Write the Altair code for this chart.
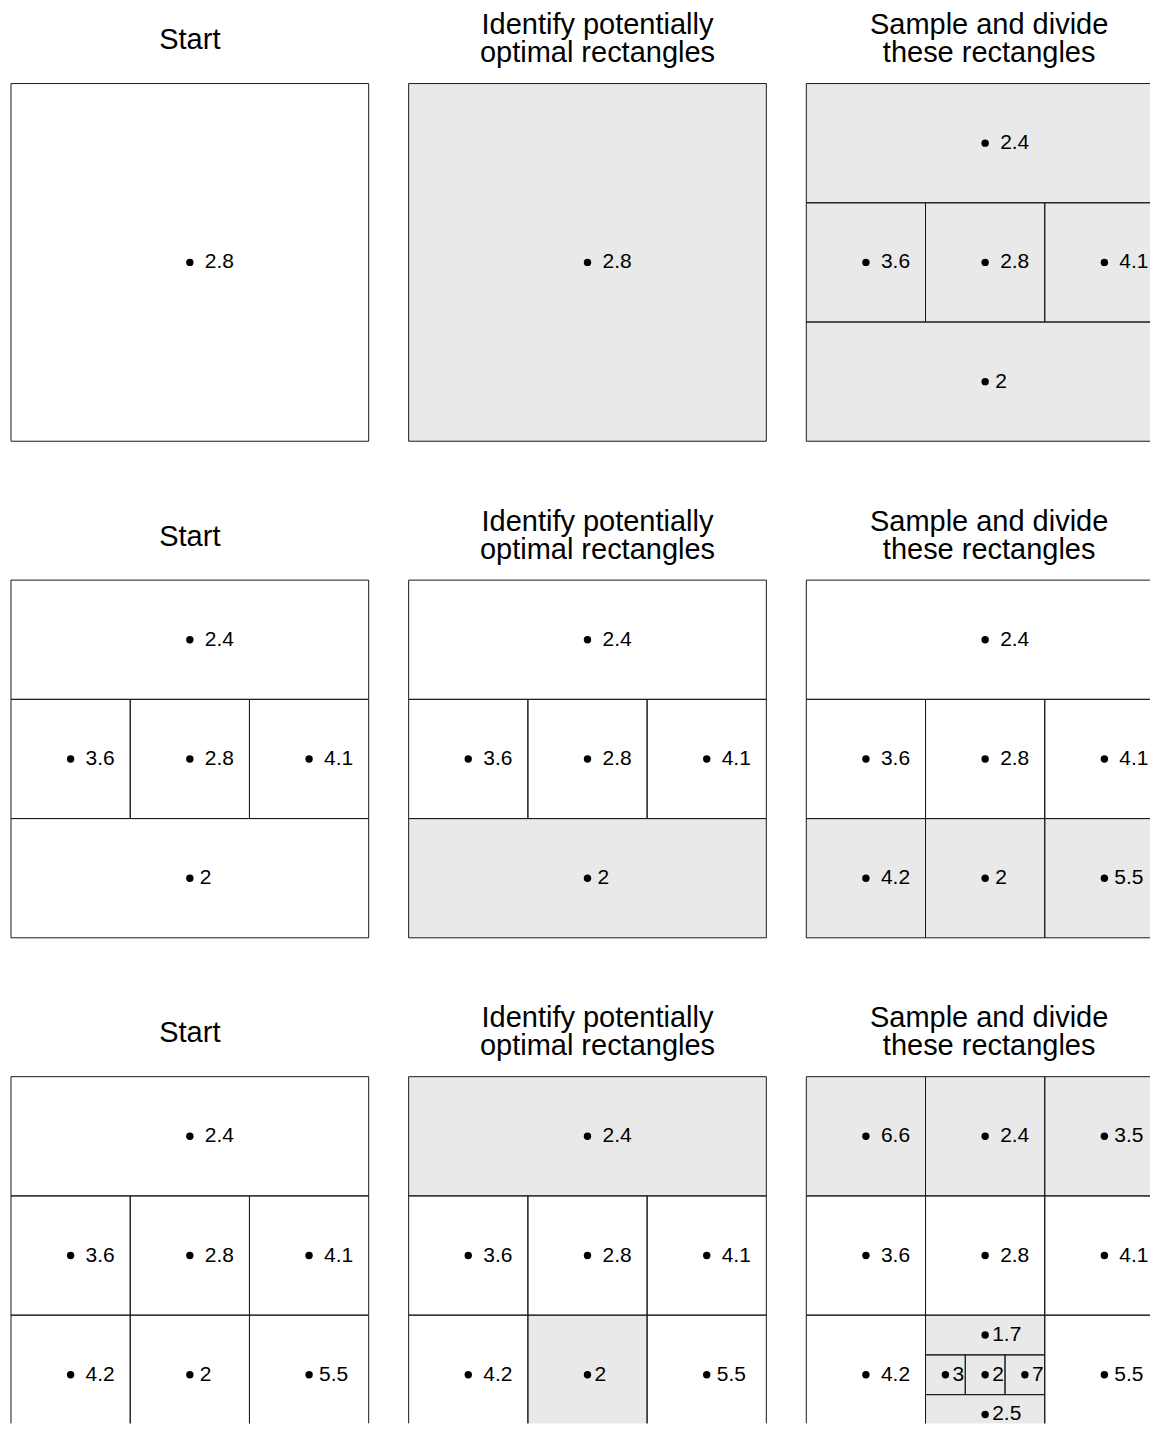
import altair as alt
import pandas as pd

FONT = "Liberation Sans"

# Titles of the three columns
col_titles = [["Start"],
              ["Identify potentially", "optimal rectangles"],
              ["Sample and divide", "these rectangles"]]

# Rectangle cells in the unit square: (x0, x1, y0, y1)
cells = {
    "ALL": (0, 1, 0, 1),
    "TOP": (0, 1, 2/3, 1),
    "TL": (0, 1/3, 2/3, 1), "TC": (1/3, 2/3, 2/3, 1), "TR": (2/3, 1, 2/3, 1),
    "ML": (0, 1/3, 1/3, 2/3), "MC": (1/3, 2/3, 1/3, 2/3), "MR": (2/3, 1, 1/3, 2/3),
    "BOT": (0, 1, 0, 1/3),
    "BL": (0, 1/3, 0, 1/3), "BC": (1/3, 2/3, 0, 1/3), "BR": (2/3, 1, 0, 1/3),
    "BCT": (1/3, 2/3, 2/9, 1/3),
    "BCL": (1/3, 4/9, 1/9, 2/9), "BCM": (4/9, 5/9, 1/9, 2/9), "BCR": (5/9, 2/3, 1/9, 2/9),
    "BCB": (1/3, 2/3, 0, 1/9),
}

# Panels: (cell, value label, shaded, label spacing class)
p11 = [("ALL", "2.8", False, "wide")]
p12 = [("ALL", "2.8", True, "wide")]
p13 = [("TOP", "2.4", True, "wide"), ("ML", "3.6", True, "wide"), ("MC", "2.8", True, "wide"),
       ("MR", "4.1", True, "wide"), ("BOT", "2", True, "tight")]
p21 = [("TOP", "2.4", False, "wide"), ("ML", "3.6", False, "wide"), ("MC", "2.8", False, "wide"),
       ("MR", "4.1", False, "wide"), ("BOT", "2", False, "tight")]
p22 = [("TOP", "2.4", False, "wide"), ("ML", "3.6", False, "wide"), ("MC", "2.8", False, "wide"),
       ("MR", "4.1", False, "wide"), ("BOT", "2", True, "tight")]
p23 = [("TOP", "2.4", False, "wide"), ("ML", "3.6", False, "wide"), ("MC", "2.8", False, "wide"),
       ("MR", "4.1", False, "wide"), ("BL", "4.2", True, "wide"), ("BC", "2", True, "tight"),
       ("BR", "5.5", True, "tight")]
p31 = [("TOP", "2.4", False, "wide"), ("ML", "3.6", False, "wide"), ("MC", "2.8", False, "wide"),
       ("MR", "4.1", False, "wide"), ("BL", "4.2", False, "wide"), ("BC", "2", False, "tight"),
       ("BR", "5.5", False, "tight")]
p32 = [("TOP", "2.4", True, "wide"), ("ML", "3.6", False, "wide"), ("MC", "2.8", False, "wide"),
       ("MR", "4.1", False, "wide"), ("BL", "4.2", False, "wide"), ("BC", "2", True, "snug"),
       ("BR", "5.5", False, "tight")]
p33 = [("TL", "6.6", True, "wide"), ("TC", "2.4", True, "wide"), ("TR", "3.5", True, "tight"),
       ("ML", "3.6", False, "wide"), ("MC", "2.8", False, "wide"), ("MR", "4.1", False, "wide"),
       ("BL", "4.2", False, "wide"), ("BR", "5.5", False, "tight"),
       ("BCT", "1.7", True, "snug"), ("BCL", "3", True, "snug"), ("BCM", "2", True, "snug"),
       ("BCR", "7", True, "snug"), ("BCB", "2.5", True, "snug")]

rows = [[p11, p12, p13], [p21, p22, p23], [p31, p32, p33]]

W = 358          # full panel size
W_LAST = 344     # visible part of the right column (cut by the page edge)
H_LAST = 347     # visible part of the bottom row (cut by the page edge)
SHADE = "#e9e9e9"
LINE = "#1a1a1a"
GAPS = {"wide": 15, "tight": 10, "snug": 7}
TITLE_DX = [0, 10, 11]


def panel(items, title_lines, col, last_row):
    last_col = col == 2
    df = pd.DataFrame(
        [dict(x0=cells[c][0], x1=cells[c][1], y0=cells[c][2], y1=cells[c][3],
              label=v, shade="yes" if s else "no", gap=g)
         for c, v, s, g in items])
    base = alt.Chart(df)
    xmax = W_LAST / W if last_col else 1
    ymin = (W - H_LAST) / W if last_row else 0
    xs = alt.Scale(domain=[0, xmax], nice=False, zero=False, clamp=True)
    ys = alt.Scale(domain=[ymin, 1], nice=False, zero=False, clamp=True)
    X = lambda f: alt.X(f, scale=xs, axis=None)
    Y = lambda f: alt.Y(f, scale=ys, axis=None)
    rect = base.mark_rect(strokeWidth=0).encode(
        x=X("x0:Q"), x2="x1:Q", y=Y("y0:Q"), y2="y1:Q",
        fill=alt.Fill("shade:N", scale=alt.Scale(domain=["no", "yes"], range=["white", SHADE]),
                      legend=None),
    )
    rule = dict(color=LINE, strokeWidth=1)
    left = base.mark_rule(**rule).encode(x=X("x0:Q"), y=Y("y0:Q"), y2="y1:Q")
    right = base.transform_filter(f"datum.x1 <= {xmax} + 1e-9").mark_rule(**rule).encode(
        x=X("x1:Q"), y=Y("y0:Q"), y2="y1:Q")
    top = base.mark_rule(**rule).encode(x=X("x0:Q"), x2="x1:Q", y=Y("y1:Q"))
    bottom = base.transform_filter(f"datum.y0 >= {ymin} - 1e-9").mark_rule(**rule).encode(
        x=X("x0:Q"), x2="x1:Q", y=Y("y0:Q"))
    cen = base.transform_calculate(cx="(datum.x0+datum.x1)/2", cy="(datum.y0+datum.y1)/2")
    dots = cen.mark_circle(size=55, color="black", opacity=1).encode(x=X("cx:Q"), y=Y("cy:Q"))
    layers = [rect, left, right, top, bottom, dots]
    for g, dx in GAPS.items():
        layers.append(
            cen.transform_filter(f"datum.gap == '{g}'").mark_text(
                align="left", baseline="middle", dx=dx, fontSize=21, font=FONT,
                color="black").encode(x=X("cx:Q"), y=Y("cy:Q"), text="label:N"))
    off = 15 if len(title_lines) == 2 else 28
    return alt.layer(*layers).properties(
        width=W_LAST if last_col else W, height=H_LAST if last_row else W,
        title=alt.TitleParams(text=title_lines, fontSize=29, font=FONT, fontWeight="normal",
                              anchor="middle", offset=off, color="black", lineHeight=28,
                              dx=TITLE_DX[col]),
    )


panels = [panel(p, col_titles[j], j, i == 2)
          for i, r in enumerate(rows) for j, p in enumerate(r)]

chart = alt.concat(
    *panels, columns=3, spacing=alt.RowColnumber(row=139, column=40),
    bounds="flush", align="each",
).configure_view(stroke=None).properties(
    padding={"left": 2, "top": 2, "right": 0, "bottom": 0})

chart.save("out.html", embed_options={"renderer": "svg", "actions": False})
